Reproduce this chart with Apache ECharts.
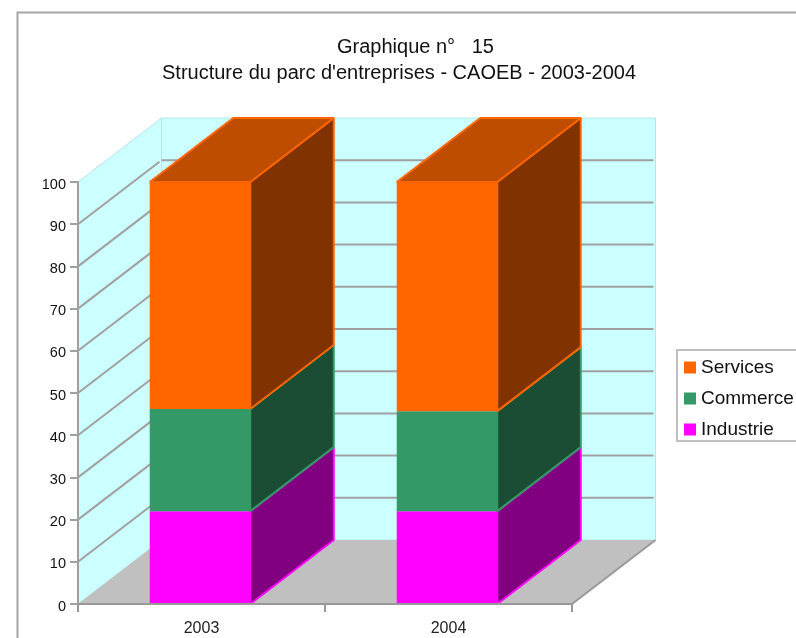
<!DOCTYPE html>
<html>
<head>
<meta charset="utf-8">
<style>
html, body { margin: 0; padding: 0; background: #fff; }
#chart { width: 796px; height: 638px; }
</style>
<script src="https://cdn.jsdelivr.net/npm/echarts@6/dist/echarts.min.js"></script>
</head>
<body>
<div id="chart"></div>
<script>
const categories = ["2003", "2004"];
const yTicks = [0, 10, 20, 30, 40, 50, 60, 70, 80, 90, 100];
const industrie = [22, 22];
const commerce = [24.2, 23.7];
const services = [53.8, 54.3];

// fausse perspective : decalage de la face arriere
const depthX = 83.5;
const depthY = -64;
const barRatio = 0.407;
const barShift = -1.5;
const font = "Liberation Sans";

const stacks = [
  { name: "Industrie", values: industrie, color: "#ff00ff", side: "#800080", top: "#bf00bf" },
  { name: "Commerce", values: commerce, color: "#339966", side: "#1a4d33", top: "#267350" },
  { name: "Services", values: services, color: "#ff6600", side: "#803300", top: "#bf4d00" }
];

function shift(p) {
  return [p[0] + depthX, p[1] + depthY];
}

function renderWalls(params, api) {
  const a = api.coord([0, 0]);
  const b = api.coord([0, 100]);
  const w = api.size([1, 0])[0];
  const left = a[0] - w / 2;
  const right = left + w * categories.length;
  const p0 = [left, a[1]], p1 = [right, a[1]], p2 = [left, b[1]];
  const wall = { fill: "#ccffff", stroke: "#b4e6e6", lineWidth: 1 };
  return {
    type: "group",
    children: [
      { type: "polygon", shape: { points: [p0, p2, shift(p2), shift(p0)] }, style: wall },
      { type: "polygon", shape: { points: [shift(p0), shift(p2), shift([right, b[1]]), shift(p1)] }, style: wall },
      { type: "polygon", shape: { points: [p0, p1, shift(p1), shift(p0)] }, style: { fill: "#c0c0c0" } },
      { type: "line", shape: { x1: p1[0], y1: p1[1], x2: p1[0] + depthX, y2: p1[1] + depthY }, style: { stroke: "#999999", lineWidth: 2 } }
    ]
  };
}

function renderGridLine(params, api) {
  const a = api.coord([0, api.value(0)]);
  const w = api.size([1, 0])[0];
  const left = a[0] - w / 2;
  const right = left + w * categories.length;
  const start = [left, a[1]];
  const back = shift(start);
  const style = { stroke: "#a0a0a0", lineWidth: 2 };
  return {
    type: "group",
    children: [
      { type: "line", shape: { x1: start[0], y1: start[1], x2: back[0] - 2, y2: back[1] + 1.5 }, style: style },
      { type: "line", shape: { x1: back[0], y1: back[1], x2: right + depthX - 2, y2: back[1] }, style: style }
    ]
  };
}

function renderBar(stack, isLast) {
  return function (params, api) {
    const cat = api.value(0);
    const low = api.coord([cat, api.value(1)]);
    const high = api.coord([cat, api.value(2)]);
    const w = api.size([1, 0])[0] * barRatio;
    const x0 = low[0] + barShift - w / 2, x1 = x0 + w;
    const bl = [x1, low[1]], tl = [x1, high[1]];
    const children = [
      { type: "polygon", shape: { points: [bl, tl, shift(tl), shift(bl)] }, style: { fill: stack.side, stroke: stack.color, lineWidth: 2, lineJoin: "bevel" } }
    ];
    if (isLast) {
      const fl = [x0, high[1]];
      children.push({ type: "polygon", shape: { points: [fl, tl, shift(tl), shift(fl)] }, style: { fill: stack.top, stroke: stack.color, lineWidth: 2, lineJoin: "bevel" } });
    }
    children.push({ type: "rect", shape: { x: x0, y: high[1], width: w, height: low[1] - high[1] }, style: { fill: stack.color } });
    return { type: "group", children: children };
  };
}

const barSeries = stacks.map(function (stack, i) {
  const rows = categories.map(function (c, k) {
    let base = 0;
    for (let j = 0; j < i; j++) base += stacks[j].values[k];
    return [k, base, base + stack.values[k]];
  });
  return {
    name: stack.name,
    type: "custom",
    data: rows,
    encode: { x: 0, y: [1, 2] },
    itemStyle: { color: stack.color },
    z: 4 + i,
    renderItem: renderBar(stack, i === stacks.length - 1)
  };
});

const chart = echarts.init(document.getElementById("chart"));
chart.setOption({
  animation: false,
  backgroundColor: "#ffffff",
  graphic: [
    { type: "rect", silent: true, z: -1, shape: { x: 17.5, y: 12.5, width: 900, height: 800 }, style: { fill: "#ffffff", stroke: "#a6a6a6", lineWidth: 2 } }
  ],
  title: [
    { text: "Graphique n°   15", left: 332, top: 32, textStyle: { fontFamily: font, fontSize: 20, fontWeight: "normal", color: "#111111" } },
    { text: "Structure du parc d'entreprises - CAOEB - 2003-2004", left: 157, top: 58, textStyle: { fontFamily: font, fontSize: 20, fontWeight: "normal", color: "#111111" } }
  ],
  legend: {
    data: ["Services", "Commerce", "Industrie"],
    orient: "vertical",
    left: 677,
    top: 350,
    padding: [8, 12, 2, 7],
    itemWidth: 12,
    itemHeight: 12,
    itemGap: 12,
    icon: "rect",
    borderColor: "#c0c0c0",
    borderWidth: 2,
    backgroundColor: "#ffffff",
    selectedMode: false,
    textStyle: { fontFamily: font, fontSize: 19, color: "#111111" }
  },
  grid: { left: 78, width: 494, top: 182, height: 422, containLabel: false },
  xAxis: {
    type: "category",
    data: categories,
    z: 10,
    axisLine: { lineStyle: { color: "#999999", width: 2 } },
    axisTick: { show: true, length: 8, lineStyle: { color: "#999999", width: 2 } },
    axisLabel: { fontFamily: font, fontSize: 16, color: "#222222", margin: 17 },
    splitLine: { show: false }
  },
  yAxis: {
    type: "value",
    min: 0,
    max: 100,
    interval: 10,
    z: 10,
    axisLine: { show: true, lineStyle: { color: "#a0a0a0", width: 2 } },
    axisTick: { show: true, length: 8, lineStyle: { color: "#a0a0a0", width: 2 } },
    axisLabel: {
      margin: 12,
      formatter: "{n|{value}}",
      rich: { n: { fontFamily: font, fontSize: 14.5, color: "#111111", padding: [5, 0, 0, 0] } }
    },
    splitLine: { show: false }
  },
  series: [
    { name: "parois", type: "custom", data: [[0]], z: 1, silent: true, renderItem: renderWalls, encode: { x: 0 } },
    { name: "quadrillage", type: "custom", data: yTicks.slice(1, -1).map(function (t) { return [t]; }), z: 2, silent: true, renderItem: renderGridLine, encode: { y: 0 } }
  ].concat(barSeries)
});
</script>
</body>
</html>
